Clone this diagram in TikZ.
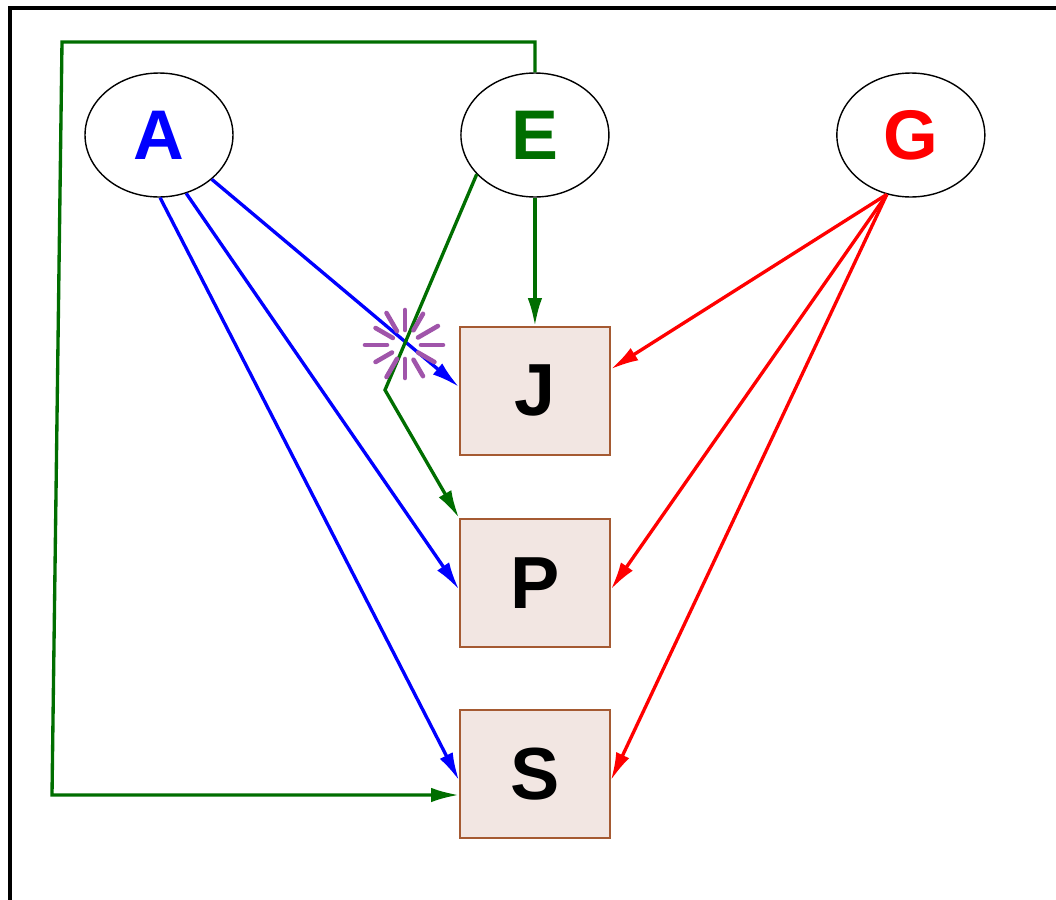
\documentclass[tikz,border=0pt]{standalone}
\usepackage{fontspec}
\setmainfont{Liberation Sans}
\usetikzlibrary{positioning}
\usetikzlibrary{shapes.geometric}
\usetikzlibrary{arrows.meta}
\usetikzlibrary{calc}

\definecolor{agreen}{RGB}{0,110,0}
\definecolor{boxfill}{RGB}{242,230,226}
\definecolor{boxline}{RGB}{165,90,50}
\definecolor{burstc}{RGB}{160,85,170}

\tikzset{
  src/.style={ellipse, draw, line width=0.8pt, minimum width=2.96cm, minimum height=2.48cm,
              inner sep=0pt, font=\bfseries\fontsize{40}{40}\selectfont},
  tgt/.style={rectangle, draw=boxline, fill=boxfill, line width=1pt, minimum width=3cm,
              minimum height=2.56cm, inner sep=0pt, font=\bfseries\fontsize{42}{42}\selectfont},
  link/.style={line width=1.9pt, -{Latex[length=5.6mm,width=2.9mm]}},
  frame/.style={line width=2.3pt},
  burst/.style={burstc, line width=2.6pt, line cap=round}
}

\begin{document}
\begin{tikzpicture}[x=0.02cm,y=-0.02cm,node distance=7.52cm,on grid]
    \useasboundingbox (0,0) rectangle (1056,900);
    \draw[frame] (10,900) -- (10,8) -- (1056,8);

    \node[src, text=blue]                                   (A) at (159,135) {A};
    \node[src, text=agreen, right of=A]                     (E) {E};
    \node[src, text=red, right of=E]                        (G) {G};
    \node[tgt, below of=E, node distance=5.12cm]            (J) {J};
    \node[tgt, below of=J, node distance=3.84cm]            (P) {P};
    \node[tgt, below of=P, node distance=3.82cm]            (S) {S};

    \path[link] (A)     edge[blue] (J.177)
                (A.-65) edge[blue] (P.185)
                (A.-89) edge[blue] (S.185)
                (E)     edge[agreen] (J)
                (G.248) edge[red] (J.16)
                (G.248) edge[red] (P.-5)
                (G.248) edge[red] (S.-5);

    % green lines that go round
    \coordinate (knee) at (385,390);
    \coordinate (topr) at (535,42);
    \coordinate (topl) at (62,42);
    \coordinate (botl) at (52,795);
    \draw[link, agreen] (E.214) -- (knee) -- (P.north west);
    \draw[link, agreen] (E.north) -- (topr) -- (topl) -- (botl) -- (botl -| S.west);

    % crossing mark
    \coordinate (X) at (405,345);
    \foreach \a/\p/\r in {0/16/38,30/15/34,60/17/36,90/14/33,120/16/37,150/15/34,
                          180/18/40,210/14/34,240/16/37,270/15/35,300/17/36,330/15/38}
      \draw[burst] ($(X)+(\a:\p)$) -- ($(X)+(\a:\r)$);
\end{tikzpicture}
\end{document}
